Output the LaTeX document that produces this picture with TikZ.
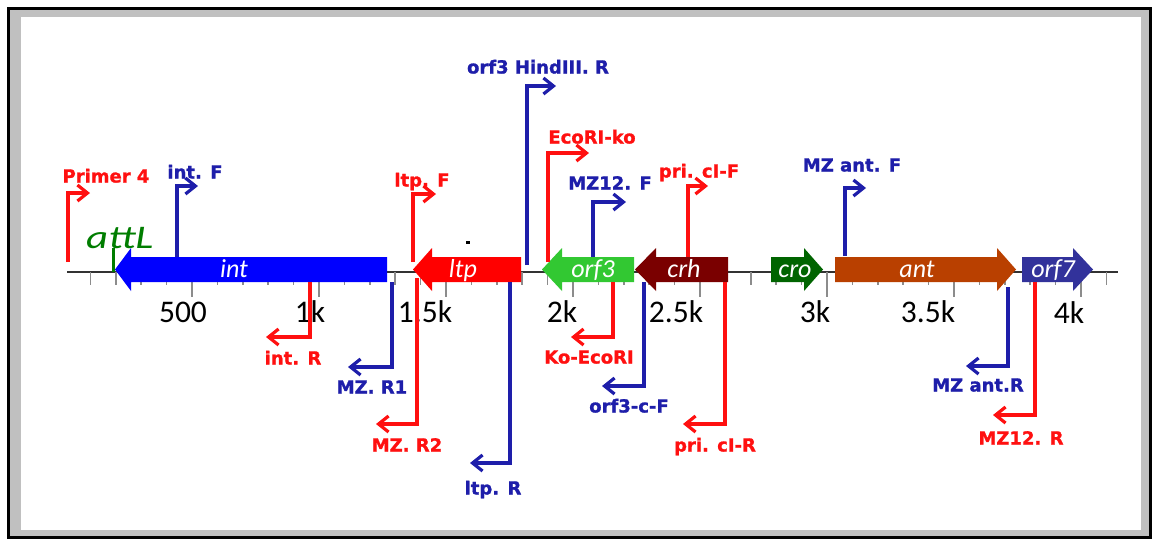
\documentclass[tikz,border=0pt]{standalone}
\usepackage{fontspec}
\setmainfont{Carlito}
\newfontfamily\lblfont{DejaVu Sans}[BoldFeatures={FakeBold=1.2}]
\usetikzlibrary{arrows.meta}
\definecolor{pred}{RGB}{255,16,16}
\definecolor{pblue}{RGB}{30,30,170}
\definecolor{cint}{RGB}{0,0,255}
\definecolor{cltp}{RGB}{255,0,0}
\definecolor{corfthree}{RGB}{50,200,50}
\definecolor{ccrh}{RGB}{122,0,0}
\definecolor{ccro}{RGB}{0,100,0}
\definecolor{cant}{RGB}{185,64,0}
\definecolor{corfseven}{RGB}{50,50,155}
\definecolor{cattl}{RGB}{0,125,0}
\definecolor{framegray}{RGB}{192,192,192}
\definecolor{tickgray}{RGB}{140,140,140}
\definecolor{axisgray}{RGB}{50,50,50}
\newcommand\geneleft[5]{% name, colour, tip x, shoulder x, end x
  \fill[#2] (#3,269.5) -- (#4,248) -- (#4,257) -- (#5,257) -- (#5,282) -- (#4,282) -- (#4,291) -- cycle;
  \coordinate (#1) at ({(#3+#5)/2},269.5);}
\newcommand\generight[5]{% name, colour, tip x, shoulder x, start x
  \fill[#2] (#3,269.5) -- (#4,248) -- (#4,257) -- (#5,257) -- (#5,282) -- (#4,282) -- (#4,291) -- cycle;
  \coordinate (#1) at ({(#3+#5)/2},269.5);}
\newcommand\primer[9]{% name, colour, x, y start, y corner, tip x, label x, label y, text
  \coordinate (#1-s) at (#3,#4);
  \coordinate (#1-c) at (#3,#5);
  \coordinate (#1-e) at (#6,#5);
  \draw[primer,#2] (#1-s) -- (#1-c) -- (#1-e);
  \node[plabel,text=#2] (#1-lbl) at (#7,#8) {#9};}
\begin{document}
\begin{tikzpicture}[x=1pt,y=-1pt,
  primer/.style={line width=3.2pt,-{Straight Barb[length=10pt,width=16pt]},line join=miter},
  plabel/.style={font=\lblfont\bfseries\fontsize{18}{20}\selectfont,inner sep=0pt,text height=13pt,text depth=0pt},
  glabel/.style={font=\itshape\fontsize{26}{28}\selectfont,text=white,inner sep=0pt,anchor=base},
  numlabel/.style={font=\fontsize{31.5}{34}\selectfont,inner sep=0pt,text height=20pt,text depth=0pt},
  tickline/.style={draw=tickgray,line width=1.6pt},
  axisline/.style={draw=axisgray,line width=2.6pt}]
\useasboundingbox (0,0) rectangle (1152,539);
% frame
\fill[framegray] (8,8) rectangle (1150,537);
\draw[black,line width=3pt] (8,8) rectangle (1150,537);
\fill[white] (21,17) rectangle (1141,530);
% axis
\coordinate (axl) at (67,272);
\coordinate (axr) at (1118,272);
\draw[axisline] (axl) -- (axr);
\foreach \k in {1,...,41}{\draw[tickline] ({65+25.4*\k},272) -- ({65+25.4*\k},285);}
\foreach \k in {5,10,...,40}{\draw[tickline] ({65+25.4*\k},272) -- ({65+25.4*\k},297);}
\node[numlabel] (n500) at (183,312) {500};
\node[numlabel] (n1k) at (310,312) {1k};
\node[numlabel] (n15k) at (425,312) {1.5k};
\node[numlabel] (n2k) at (562,312) {2k};
\node[numlabel] (n25k) at (676,312) {2.5k};
\node[numlabel] (n3k) at (815,312) {3k};
\node[numlabel] (n35k) at (928,312) {3.5k};
\node[numlabel] (n4k) at (1069,313) {4k};
% attL
\coordinate (attl-top) at (113,248);
\coordinate (attl-bot) at (113,272);
\draw[cattl,line width=3pt] (attl-top) -- (attl-bot);
\node[font=\itshape\fontsize{33}{36}\selectfont,text=cattl,inner sep=0pt,anchor=base west] (attl) at (86,248) {\scalebox{1.3}[1]{attL}};
% small mark
\fill[black] (466,241) rectangle (470,243.5);
% genes
\geneleft{gint}{cint}{115}{131}{387}
\geneleft{gltp}{cltp}{413}{432}{521}
\geneleft{gorf3}{corfthree}{542}{562}{634}
\geneleft{gcrh}{ccrh}{635}{656}{728}
\generight{gcro}{ccro}{823}{804}{771}
\generight{gant}{cant}{1016}{997}{835}
\generight{gorf7}{corfseven}{1093}{1073}{1022}
\node[glabel] (lint) at (234,277) {int};
\node[glabel] (lltp) at (463,277) {ltp};
\node[glabel] (lorf3) at (593,277) {orf3};
\node[glabel] (lcrh) at (684,277) {crh};
\node[glabel] (lcro) at (795,277) {cro};
\node[glabel] (lant) at (917,277) {ant};
\node[glabel] (lorf7) at (1053,277) {orf7};
% forward primers
\primer{p4}{pred}{68}{262}{193}{90}{106}{176}{Primer 4}
\primer{intF}{pblue}{177}{257}{186}{198}{195}{172}{int. F}
\primer{ltpF}{pred}{413}{262}{194}{436}{422}{180}{ltp. F}
\primer{hind}{pblue}{527}{265}{86}{556}{538}{67}{orf3 HindIII. R}
\primer{ecoko}{pred}{548}{262}{153}{589}{592}{137}{EcoRI-ko}
\primer{mz12F}{pblue}{593}{257}{202}{626}{610}{183}{MZ12. F}
\primer{criF}{pred}{688}{257}{186}{708}{699}{171}{pri. cI-F}
\primer{antF}{pblue}{845}{256}{188}{866}{852}{165}{MZ ant. F}
% reverse primers
\primer{intR}{pred}{310}{282}{337}{266}{293}{358}{int. R}
\primer{mzR1}{pblue}{392}{282}{367}{348}{372}{387}{MZ. R1}
\primer{mzR2}{pred}{417}{278}{424}{376}{407}{445}{MZ. R2}
\primer{ltpR}{pblue}{510}{282}{463}{470}{493}{488}{ltp. R}
\primer{koeco}{pred}{613}{282}{337}{571}{589}{357}{Ko-EcoRI}
\primer{orfcF}{pblue}{644}{282}{386}{602}{629}{406}{orf3-c-F}
\primer{criR}{pred}{725}{282}{424}{683}{715}{445}{pri. cI-R}
\primer{antR}{pblue}{1008}{287}{366}{966}{978}{385}{MZ ant.R}
\primer{mz12R}{pred}{1035}{282}{415}{993}{1021}{438}{MZ12. R}
\end{tikzpicture}
\end{document}
